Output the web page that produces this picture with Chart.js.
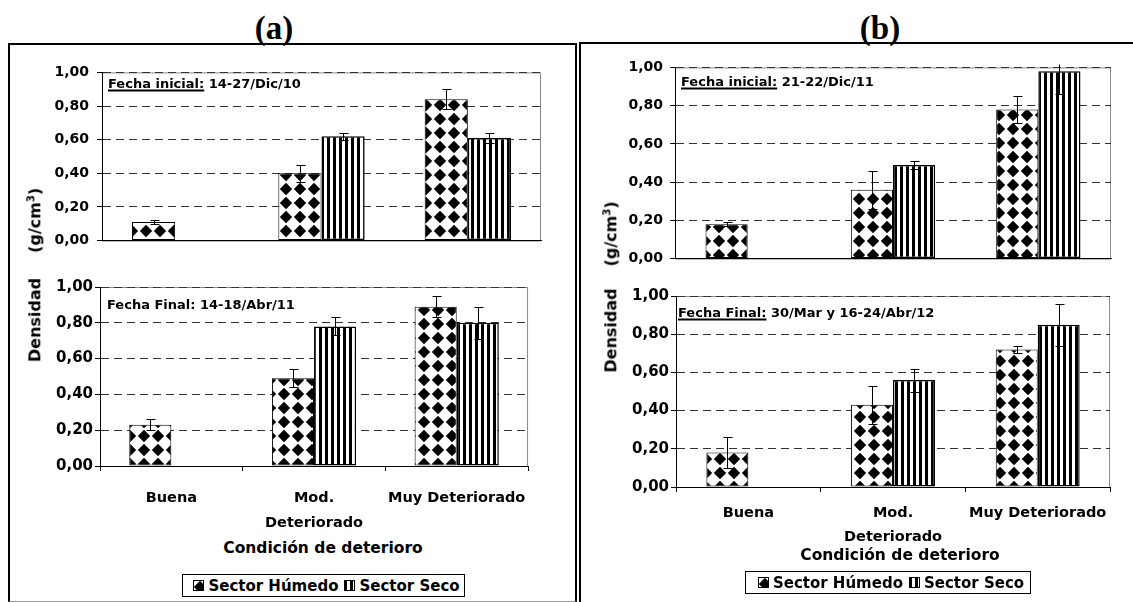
<!DOCTYPE html>
<html lang="es">
<head>
<meta charset="utf-8">
<title>Densidad por condición de deterioro</title>
<script src="https://cdn.jsdelivr.net/npm/chart.js@4.4.1/dist/chart.umd.min.js"></script>
<style>
  html, body { margin: 0; padding: 0; background: #fff; }
  #page { position: relative; width: 1133px; height: 602px; overflow: hidden;
          font-family: 'DejaVu Sans', sans-serif; font-weight: bold; color: #000; }
  .frame { position: absolute; box-sizing: border-box; }
  .ptitle { position: absolute; font-family: 'Liberation Serif', serif; font-weight: bold;
            font-size: 33px; line-height: 1; white-space: nowrap; transform: translate(-50%, -50%); }
  canvas.chart { position: absolute; }
  .note { position: absolute; font-size: 13px; line-height: 1; white-space: nowrap; transform: translateY(-50%); }
  .note u { text-decoration-thickness: 2px; text-underline-offset: 2px; }
  .ytitle { position: absolute; font-size: 16px; line-height: 1; white-space: nowrap;
            transform: translate(-50%, -50%) rotate(-90deg); }
  .ytitle sup { font-size: 10px; }
  .xtitle { position: absolute; font-size: 15.5px; line-height: 1; white-space: nowrap; transform: translate(-50%, -50%); }
  .legend { position: absolute; box-sizing: border-box; border: 1px solid #000; background: #fff;
            font-size: 15px; display: flex; align-items: center; justify-content: center; white-space: nowrap; }
  .legend canvas { margin: 0 4px 0 6px; }
</style>
</head>
<body>
<div id="page">
  <div class="frame" style="left:8px;top:43px;width:569px;height:559px;border-left:2px solid #000;border-top:2px solid #000;border-right:2px solid #000;border-bottom:1px solid #999;"></div>
  <div class="frame" style="left:579px;top:42px;width:570px;height:570px;border-left:2px solid #000;border-top:2px solid #000;"></div>

  <div class="ptitle" style="left:274px;top:28px;">(a)</div>
  <div class="ptitle" style="left:880px;top:28px;">(b)</div>

  <canvas class="chart" id="chartA1"></canvas>
  <canvas class="chart" id="chartA2"></canvas>
  <canvas class="chart" id="chartB1"></canvas>
  <canvas class="chart" id="chartB2"></canvas>

  <div class="note" style="left:108px;top:83px;"><u>Fecha inicial:</u> 14-27/Dic/10</div>
  <div class="note" style="left:107px;top:304px;">Fecha Final: 14-18/Abr/11</div>
  <div class="note" style="left:681px;top:81px;"><u>Fecha inicial:</u> 21-22/Dic/11</div>
  <div class="note" style="left:678px;top:312px;"><u>Fecha Final:</u> 30/Mar y 16-24/Abr/12</div>

  <div class="ytitle" style="left:35px;top:275px;">Densidad<span style="display:inline-block;width:25px"></span>(g/cm<sup>3</sup>)</div>
  <div class="ytitle" style="left:611px;top:287px;">Densidad<span style="display:inline-block;width:22px"></span>(g/cm<sup>3</sup>)</div>

  <div class="xtitle" style="left:323px;top:549px;">Condición de deterioro</div>
  <div class="xtitle" style="left:900px;top:556px;">Condición de deterioro</div>

  <div class="legend" id="legendA" style="left:182px;top:574px;width:283px;height:23px;"></div>
  <div class="legend" id="legendB" style="left:745px;top:571px;width:286px;height:23px;"></div>
</div>

<script>
// ====== DATOS ======
const categories = ['Buena', ['Mod.', 'Deteriorado'], 'Muy Deteriorado'];
const seriesNames = ['Sector Húmedo', 'Sector Seco'];
const yTickLabels = ['0,00', '0,20', '0,40', '0,60', '0,80', '1,00'];

// (a) fecha inicial 14-27/Dic/10
const humedoIniA = [0.11, 0.40, 0.84];
const errHumedoIniA = [0.01, 0.05, 0.06];
const secoIniA = [null, 0.62, 0.61];
const errSecoIniA = [null, 0.02, 0.03];

// (a) fecha final 14-18/Abr/11
const humedoFinA = [0.23, 0.49, 0.89];
const errHumedoFinA = [0.03, 0.05, 0.06];
const secoFinA = [null, 0.78, 0.80];
const errSecoFinA = [null, 0.05, 0.09];

// (b) fecha inicial 21-22/Dic/11
const humedoIniB = [0.18, 0.36, 0.78];
const errHumedoIniB = [0.01, 0.10, 0.07];
const secoIniB = [null, 0.49, 0.98];
const errSecoIniB = [null, 0.02, 0.12];

// (b) fecha final 30/Mar y 16-24/Abr/12
const humedoFinB = [0.18, 0.43, 0.72];
const errHumedoFinB = [0.08, 0.10, 0.02];
const secoFinB = [null, 0.56, 0.85];
const errSecoFinB = [null, 0.06, 0.11];
// ===================

Chart.defaults.font.family = "'DejaVu Sans', sans-serif";
Chart.defaults.font.weight = 'bold';
Chart.defaults.color = '#000';

// Tramas: rombos negros y rayas verticales
function diamondTile(){
  const c = document.createElement('canvas');
  c.width = 14; c.height = 14;
  const g = c.getContext('2d');
  g.fillStyle = '#fff'; g.fillRect(0, 0, 14, 14);
  g.fillStyle = '#000';
  g.beginPath();
  g.moveTo(7, 0.8); g.lineTo(13.2, 7); g.lineTo(7, 13.2); g.lineTo(0.8, 7);
  g.closePath(); g.fill();
  return c;
}
function stripeTile(){
  const c = document.createElement('canvas');
  c.width = 6; c.height = 4;
  const g = c.getContext('2d');
  g.fillStyle = '#fff'; g.fillRect(0, 0, 6, 4);
  g.fillStyle = '#000'; g.fillRect(0, 0, 3, 4);
  return c;
}
const tiles = [diamondTile(), stripeTile()];
const patternCtx = document.createElement('canvas').getContext('2d');
const patterns = tiles.map(t => patternCtx.createPattern(t, 'repeat'));

// Marco gris del área de trazado
const plotFrame = {
  id: 'plotFrame',
  beforeDraw(chart){
    const { ctx, chartArea: a } = chart;
    ctx.save();
    ctx.strokeStyle = '#8a8a8a';
    ctx.lineWidth = 1;
    ctx.strokeRect(a.left + 0.5, a.top + 0.5, a.width - 1, a.height);
    ctx.restore();
  }
};

// Barras de error
const errorBars = {
  id: 'errorBars',
  afterDatasetsDraw(chart){
    const { ctx, chartArea: a } = chart;
    const y = chart.scales.y;
    ctx.save();
    ctx.beginPath();
    ctx.rect(a.left, a.top - 3, a.width, a.height + 3);
    ctx.clip();
    ctx.strokeStyle = '#000';
    ctx.lineWidth = 1;
    chart.data.datasets.forEach((ds, di) => {
      const meta = chart.getDatasetMeta(di);
      meta.data.forEach((bar, i) => {
        const v = ds.data[i], e = ds.errors[i];
        if (v == null || e == null) return;
        const x = Math.round(bar.x) + 0.5;
        const yt = Math.round(y.getPixelForValue(v + e)) + 0.5;
        const yb = Math.round(y.getPixelForValue(v - e)) + 0.5;
        ctx.beginPath();
        ctx.moveTo(x, yt); ctx.lineTo(x, yb);
        ctx.moveTo(x - 4, yt); ctx.lineTo(x + 5, yt);
        ctx.moveTo(x - 4, yb); ctx.lineTo(x + 5, yb);
        ctx.stroke();
      });
    });
    ctx.restore();
  }
};

function makeChart(id, o){
  const cv = document.getElementById(id);
  cv.width = o.width; cv.height = o.height;
  cv.style.left = o.left + 'px';
  cv.style.top = o.top + 'px';
  return new Chart(cv, {
    type: 'bar',
    data: {
      labels: categories,
      datasets: [
        { label: seriesNames[0], data: o.humedo, errors: o.errHumedo,
          backgroundColor: patterns[0], borderColor: '#000', borderWidth: 1, borderSkipped: false,
          categoryPercentage: o.catPct, barPercentage: 1 },
        { label: seriesNames[1], data: o.seco, errors: o.errSeco,
          backgroundColor: patterns[1], borderColor: '#000', borderWidth: 1.5, borderSkipped: false,
          categoryPercentage: o.catPct, barPercentage: 1 }
      ]
    },
    options: {
      responsive: false,
      animation: false,
      layout: { padding: { top: 12, right: 4, bottom: o.showX ? 0 : 8, left: 0 } },
      plugins: { legend: { display: false }, tooltip: { enabled: false } },
      scales: {
        x: {
          offset: true,
          grid: { display: o.showX, offset: true, drawOnChartArea: false, drawTicks: true,
                  tickLength: 5, tickColor: '#000', color: '#000' },
          border: { display: true, color: '#000', width: 1 },
          ticks: { display: o.showX, autoSkip: false, maxRotation: 0, minRotation: 0,
                   padding: o.xPad, font: { size: 14.5, lineHeight: o.xLine } },
          afterFit: s => { s.height = o.showX ? 72 : 2; }
        },
        y: {
          min: 0, max: 1,
          ticks: { stepSize: 0.2, padding: o.yPad, font: { size: o.yFont },
                   callback: (v, i) => yTickLabels[i] },
          grid: { color: '#333', lineWidth: 1, drawTicks: true, tickLength: 5,
                  tickColor: '#000', tickBorderDash: [] },
          border: { display: true, color: '#000', width: 1, dash: [8, 5] },
          afterFit: s => { s.width = 75; }
        }
      }
    },
    plugins: [plotFrame, errorBars]
  });
}

makeChart('chartA1', { left: 27, top: 56, width: 518, height: 201, showX: false,
  humedo: humedoIniA, errHumedo: errHumedoIniA, seco: secoIniA, errSeco: errSecoIniA,
  catPct: 0.59, yFont: 14, yPad: 8, xPad: 0, xLine: 1.2 });
makeChart('chartA2', { left: 25, top: 275, width: 516, height: 263, showX: true,
  humedo: humedoFinA, errHumedo: errHumedoFinA, seco: secoFinA, errSeco: errSecoFinA,
  catPct: 0.59, yFont: 15, yPad: 2, xPad: 15, xLine: 1.7 });
makeChart('chartB1', { left: 600, top: 52, width: 515, height: 222, showX: false,
  humedo: humedoIniB, errHumedo: errHumedoIniB, seco: secoIniB, errSeco: errSecoIniB,
  catPct: 0.58, yFont: 14, yPad: 7, xPad: 0, xLine: 1.2 });
makeChart('chartB2', { left: 601, top: 284, width: 516, height: 275, showX: true,
  humedo: humedoFinB, errHumedo: errHumedoFinB, seco: secoFinB, errSeco: errSecoFinB,
  catPct: 0.58, yFont: 15, yPad: 2, xPad: 10, xLine: 1.6 });

// Leyendas
function fillLegend(id){
  const box = document.getElementById(id);
  seriesNames.forEach((name, i) => {
    const ic = document.createElement('canvas');
    ic.width = 11; ic.height = 11;
    const g = ic.getContext('2d');
    g.fillStyle = g.createPattern(tiles[i], 'repeat');
    g.fillRect(0, 0, 11, 11);
    g.strokeStyle = '#000'; g.lineWidth = 1;
    g.strokeRect(0.5, 0.5, 10, 10);
    const tx = document.createElement('span');
    tx.textContent = name;
    box.appendChild(ic);
    box.appendChild(tx);
  });
}
fillLegend('legendA');
fillLegend('legendB');
</script>
</body>
</html>
